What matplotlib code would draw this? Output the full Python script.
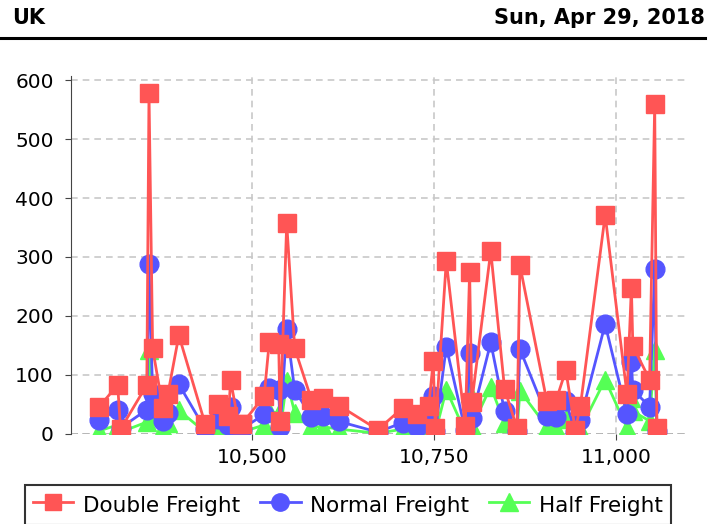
import numpy as np
import matplotlib
matplotlib.use('Agg')
import matplotlib.pyplot as plt
from matplotlib.ticker import FuncFormatter
from matplotlib.lines import Line2D

# values
x_vals = [10290, 10316, 10320, 10356, 10359, 10364, 10378, 10385, 10400, 10436,
          10454, 10468, 10471, 10482, 10486, 10517, 10524, 10537, 10539, 10548,
          10559, 10582, 10598, 10620, 10673, 10707, 10727, 10743, 10749, 10752,
          10767, 10793, 10799, 10802, 10828, 10847, 10864, 10868, 10905, 10918,
          10931, 10944, 10951, 10985, 11015, 11021, 11023, 11046, 11053, 11056]
double_freight = [45, 83, 8, 83, 578, 145, 44, 68, 167, 17,
                  50, 30, 91, 17, 16, 64, 155, 152, 22, 357,
                  145, 58, 61, 48, 7, 44, 33, 47, 123, 10,
                  293, 13, 275, 54, 310, 76, 10, 286, 55, 58,
                  108, 7, 47, 371, 67, 248, 149, 92, 559, 10]
normal_freight = [23, 41, 10, 41, 288, 67, 22, 35, 84, 8,
                  25, 15, 45, 8, 8, 33, 78, 75, 12, 178,
                  74, 29, 30, 21, 3, 19, 11, 20, 64, 5,
                  148, 6, 137, 27, 155, 38, 5, 144, 30, 29,
                  55, 4, 24, 186, 33, 122, 75, 46, 279, 5]
half_freight = [5, 15, 3, 20, 143, 30, 10, 18, 40, 3,
                10, 5, 20, 3, 3, 15, 38, 35, 5, 90,
                36, 12, 12, 8, 1, 8, 5, 10, 30, 2,
                75, 3, 70, 12, 80, 18, 2, 73, 12, 10,
                25, 2, 8, 92, 10, 60, 38, 22, 143, 2]

red = '#ff5555'
blue = '#5555ff'
green = '#55ff55'

fig = plt.figure(figsize=(7.21, 5.24), dpi=100)
ax = fig.add_axes([0.0985, 0.172, 0.852, 0.683])

ax.plot(x_vals, half_freight, color=green, marker='^', markersize=13, lw=2, zorder=2)
ax.plot(x_vals, normal_freight, color=blue, marker='o', markersize=13.5, lw=2, zorder=3)
ax.plot(x_vals, double_freight, color=red, marker='s', markersize=12.5, lw=2, zorder=4)

ax.set_xlim(10252, 11095)
ax.set_ylim(0, 607)
ax.set_xticks([10500, 10750, 11000])
ax.set_yticks([0, 100, 200, 300, 400, 500, 600])
ax.xaxis.set_major_formatter(FuncFormatter(lambda v, p: '{:,.0f}'.format(v)))
ax.tick_params(labelsize=14.5, length=4.5, color='#444444')
ax.tick_params(axis='y', pad=8)
ax.tick_params(axis='x', pad=6)
ax.grid(True, ls='--', color='#c8c8c8', lw=1.2, dashes=(4, 3))
for s in ['top', 'right', 'bottom']:
    ax.spines[s].set_visible(False)
ax.spines['left'].set_color('#444444')
ax.axhline(0, color='#444444', lw=1.2, ls='--', dashes=(4, 3), zorder=1)

handles = [Line2D([], [], color=red, marker='s', markersize=12, lw=2),
           Line2D([], [], color=blue, marker='o', markersize=12.5, lw=2),
           Line2D([], [], color=green, marker='^', markersize=12.5, lw=2)]
leg = fig.legend(handles, ['Double Freight', 'Normal Freight', 'Half Freight'],
                 loc='upper left', bbox_to_anchor=(25 / 721, 1 - 485 / 524), ncol=3,
                 fontsize=15.5, frameon=True, fancybox=False, handlelength=1.9,
                 handleheight=1.4, columnspacing=0.9, handletextpad=0.45,
                 borderpad=0.35, borderaxespad=0)
leg.get_frame().set_edgecolor('black')
leg.get_frame().set_linewidth(1.5)

# header
fig.text(12 / 721, 1 - 18 / 524, 'UK', fontsize=15, fontweight='bold', va='center', ha='left')
fig.text(705 / 721, 1 - 18 / 524, 'Sun, Apr 29, 2018', fontsize=15, fontweight='bold',
         va='center', ha='right')
fig.add_artist(Line2D([0, 705 / 721], [1 - 38 / 524, 1 - 38 / 524], color='black', lw=2.2))

fig.savefig('out.png', dpi=100)
